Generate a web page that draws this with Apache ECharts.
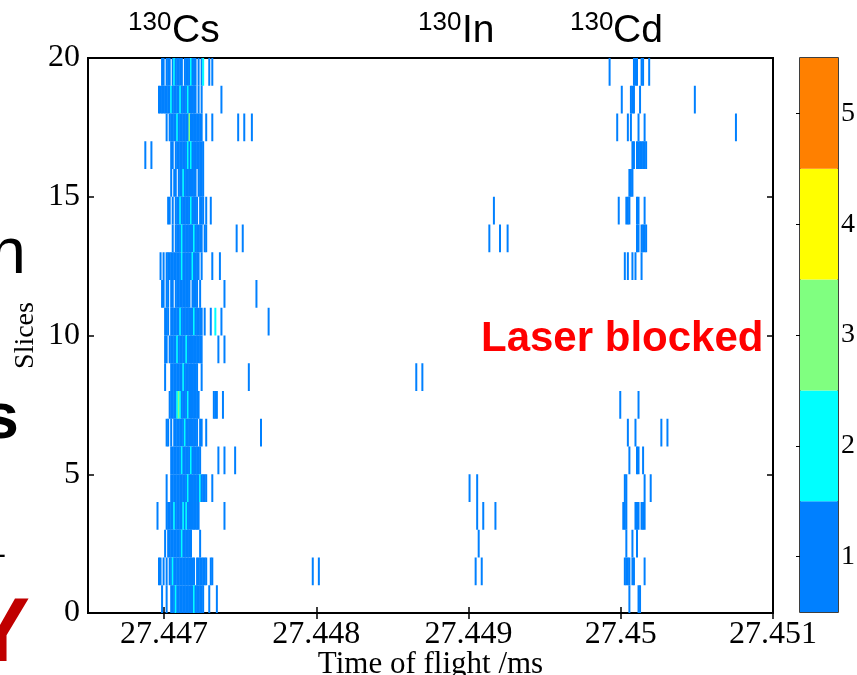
<!DOCTYPE html>
<html>
<head>
<meta charset="utf-8">
<script src="https://cdn.jsdelivr.net/npm/echarts@6/dist/echarts.min.js"></script>
<style>
  html, body { margin: 0; padding: 0; background: #fff; }
  #chart { width: 857px; height: 675px; }
</style>
</head>
<body>
<div id="chart"></div>
<script>
// Time-of-flight spectrum per slice, coloured by counts per bin.
const X_MIN = 27.4465;
const X_MAX = 27.451;
const xTickValues = [27.447, 27.448, 27.449, 27.45, 27.451];
const sliceMin = 0;
const sliceMax = 20;
const sliceStep = 5;
const countLevels = [1, 2, 3, 4, 5];
const levelColors = ['#0080ff', '#00ffff', '#80ff80', '#ffff00', '#ff8000'];

const BIN = 0.00001;     // width of one time bin (ms)
const CS_T0 = 27.4468;   // time of bin 0 for the 130Cs strings below

// 130Cs peak: [slice, first bin, counts of consecutive bins]
const csPeak = [
  [19, 18, '1101110121111101111211101012000101'],
  [18, 16, '11111111211111211112111110101'],
  [17, 21, '1011111211111113111111110010001'],
  [16, 24, '1101111111121211111111'],
  [15, 24, '1011011121111111101111'],
  [14, 22, '11010111211111121111011101001'],
  [13, 25, '10111121111111211111011'],
  [12, 17, '1010111111111121111112111101000000100001'],
  [11, 18, '11011011011111111110111101'],
  [10, 20, '11101111112111111112111110100010020001'],
  [9, 20, '1101111121111121111111111000000000010001'],
  [8, 20, '1000111111112111111111001'],
  [7, 23, '111112321111211111110000000001110001'],
  [6, 21, '110101111111211111111011001'],
  [5, 24, '11111112111112111111'],
  [4, 21, '1001111111111121111111211110001'],
  [3, 15, '1000001111121111121211111111'],
  [2, 20, '101111111112111111000001'],
  [1, 16, '110101011211111111111111011111110011'],
  [0, 18, '1001001112111111111112111111000100001']
];

// single counts scattered around the 130Cs peak: [slice, times]
const csScatter = [
  [18, [27.44737]],
  [17, [27.44748, 27.44752, 27.44757]],
  [16, [27.44687, 27.44691]],
  [13, [27.44747, 27.44751]],
  [11, [27.44739, 27.44760]],
  [10, [27.44768]],
  [8, [27.44755]],
  [6, [27.44763]],
  [5, [27.44735, 27.44739, 27.44746]],
  [3, [27.44739]],
  [1, [27.44797, 27.44801]]
];

// 130In: [slice, times]
const inPeak = [
  [14, [27.44916]],
  [13, [27.44913, 27.44920, 27.44925]],
  [8, [27.44865, 27.44869]],
  [4, [27.44900, 27.44905]],
  [3, [27.44905, 27.44909, 27.44917]],
  [2, [27.44906]],
  [1, [27.44904, 27.44908]]
];

// 130Cd: [slice, times]
const cdPeak = [
  [19, [27.44992, 27.45008, 27.45009, 27.45010, 27.45013, 27.45014, 27.45018]],
  [18, [27.45000, 27.45006, 27.45007, 27.45008, 27.45012, 27.45048]],
  [17, [27.44997, 27.45004, 27.45006, 27.45011, 27.45015, 27.45075]],
  [16, [27.45007, 27.45008, 27.45010, 27.45011, 27.45012, 27.45013, 27.45014, 27.45015, 27.45016]],
  [15, [27.45005, 27.45006, 27.45007]],
  [14, [27.44998, 27.45003, 27.45004, 27.45005, 27.45010, 27.45011, 27.45015]],
  [13, [27.45010, 27.45011, 27.45013, 27.45014, 27.45015, 27.45016]],
  [12, [27.45002, 27.45004, 27.45007, 27.45009, 27.45013]],
  [7, [27.44999, 27.45011]],
  [6, [27.45004, 27.45009, 27.45026, 27.45030]],
  [5, [27.45005, 27.45010, 27.45011, 27.45014]],
  [4, [27.45002, 27.45003, 27.45015, 27.45019]],
  [3, [27.45001, 27.45002, 27.45003, 27.45009, 27.45010, 27.45011, 27.45013, 27.45014, 27.45015]],
  [2, [27.45003, 27.45007, 27.45010]],
  [1, [27.45002, 27.45003, 27.45004, 27.45005, 27.45007, 27.45008, 27.45015]],
  [0, [27.45005, 27.45011, 27.45012]]
];

// ---- build [time, slice, count] records ----
const events = [];
csPeak.forEach(([slice, first, counts]) => {
  for (let k = 0; k < counts.length; k++) {
    const c = Number(counts[k]);
    if (c > 0) events.push([Number((CS_T0 + (first + k) * BIN).toFixed(5)), slice, c]);
  }
});
[csScatter, inPeak, cdPeak].forEach(list => {
  list.forEach(([slice, times]) => times.forEach(t => events.push([t, slice, 1])));
});

const serif = '"Liberation Serif", "Times New Roman", serif';
const sans = '"Liberation Sans", Arial, sans-serif';

// one bin = one cell; cells are kept at least 2px wide so single counts stay visible
function renderBin(params, api) {
  const t = api.value(0);
  const s = api.value(1);
  const p0 = api.coord([t, s + 1]);
  const p1 = api.coord([t + BIN, s]);
  const cs = params.coordSys;
  const w = Math.max(p1[0] - p0[0], 2);
  const shape = echarts.graphic.clipRectByRect(
    { x: p0[0], y: p0[1], width: w, height: p1[1] - p0[1] },
    { x: cs.x, y: cs.y, width: cs.width, height: cs.height }
  );
  return shape && { type: 'rect', shape: shape, style: { fill: api.visual('color') } };
}

function renderLevel(params, api) {
  const v = api.value(1);
  const p0 = api.coord([0, v + 0.5]);
  const p1 = api.coord([1, v - 0.5]);
  return {
    type: 'rect',
    shape: { x: p0[0], y: p0[1], width: p1[0] - p0[0], height: p1[1] - p0[1] },
    style: { fill: api.visual('color') }
  };
}

const tickLine = { color: '#000', width: 1.5 };
const labelStyle = { color: '#000', fontFamily: serif, fontSize: 32 };

const chart = echarts.init(document.getElementById('chart'), null, { renderer: 'canvas' });

chart.setOption({
  animation: false,
  backgroundColor: '#fff',
  grid: [
    { left: 88, right: 84, top: 58, bottom: 62, outerBoundsMode: 'none', containLabel: false,
      show: true, borderColor: '#000', borderWidth: 2, backgroundColor: 'transparent' },
    { left: 800, right: 19, top: 58, bottom: 63, outerBoundsMode: 'none', containLabel: false,
      show: true, borderColor: '#000', borderWidth: 1.5, backgroundColor: 'transparent' }
  ],
  xAxis: [
    {
      gridIndex: 0, type: 'value', min: X_MIN, max: X_MAX, position: 'bottom',
      axisLine: { show: false }, splitLine: { show: false },
      axisTick: { inside: true, length: 6, lineStyle: tickLine, customValues: xTickValues },
      axisLabel: Object.assign({ customValues: xTickValues, margin: 6 }, labelStyle),
      name: 'Time of flight /ms', nameLocation: 'middle', nameGap: 36, nameMoveOverlap: false,
      nameTextStyle: { color: '#000', fontFamily: serif, fontSize: 31 }
    },
    {
      gridIndex: 0, type: 'value', min: X_MIN, max: X_MAX, position: 'top',
      axisLine: { show: false }, splitLine: { show: false },
      axisTick: { inside: true, length: 6, lineStyle: tickLine, customValues: xTickValues },
      axisLabel: { show: false }
    },
    { gridIndex: 1, type: 'value', min: 0, max: 1, show: false }
  ],
  yAxis: [
    {
      gridIndex: 0, type: 'value', min: sliceMin, max: sliceMax, interval: sliceStep, position: 'left',
      axisLine: { show: false }, splitLine: { show: false },
      axisTick: { inside: true, length: 6, lineStyle: tickLine },
      axisLabel: Object.assign({ margin: 8 }, labelStyle),
      name: 'Slices', nameLocation: 'middle', nameGap: 48, nameRotate: 90, nameMoveOverlap: false,
      nameTextStyle: { color: '#000', fontFamily: serif, fontSize: 28 }
    },
    {
      gridIndex: 0, type: 'value', min: sliceMin, max: sliceMax, interval: sliceStep, position: 'right',
      axisLine: { show: false }, splitLine: { show: false },
      axisTick: { inside: true, length: 6, lineStyle: tickLine },
      axisLabel: { show: false }
    },
    {
      gridIndex: 1, type: 'value', min: 0.5, max: 5.5, position: 'right',
      axisLine: { show: false }, splitLine: { show: false },
      axisTick: { inside: true, length: 4, lineStyle: { color: '#000', width: 1 }, customValues: countLevels },
      axisLabel: { customValues: countLevels, margin: 3, color: '#000', fontFamily: serif, fontSize: 28 }
    },
    {
      gridIndex: 1, type: 'value', min: 0.5, max: 5.5, position: 'left',
      axisLine: { show: false }, splitLine: { show: false },
      axisTick: { inside: true, length: 4, lineStyle: { color: '#000', width: 1 }, customValues: countLevels },
      axisLabel: { show: false }
    }
  ],
  visualMap: {
    type: 'piecewise', show: false, dimension: 2, seriesIndex: [0, 1],
    pieces: countLevels.map((v, i) => ({ value: v, color: levelColors[i] }))
  },
  series: [
    {
      type: 'custom', xAxisIndex: 0, yAxisIndex: 0,
      renderItem: renderBin, encode: { x: 0, y: 1 },
      data: events, silent: true
    },
    {
      type: 'custom', xAxisIndex: 2, yAxisIndex: 2,
      renderItem: renderLevel, encode: { x: 0, y: 1 },
      data: countLevels.map(v => [0, v, v]), silent: true, z: 1
    }
  ],
  graphic: [
    { type: 'text', x: 128, y: 23, style: { text: '130', font: '26px ' + sans, fill: '#000', align: 'left', verticalAlign: 'middle' } },
    { type: 'text', x: 172, y: 31, style: { text: 'Cs', font: '39px ' + sans, fill: '#000', align: 'left', verticalAlign: 'middle' } },
    { type: 'text', x: 418, y: 23, style: { text: '130', font: '26px ' + sans, fill: '#000', align: 'left', verticalAlign: 'middle' } },
    { type: 'text', x: 462, y: 31, style: { text: 'In', font: '39px ' + sans, fill: '#000', align: 'left', verticalAlign: 'middle' } },
    { type: 'text', x: 570, y: 23, style: { text: '130', font: '26px ' + sans, fill: '#000', align: 'left', verticalAlign: 'middle' } },
    { type: 'text', x: 613, y: 31, style: { text: 'Cd', font: '39px ' + sans, fill: '#000', align: 'left', verticalAlign: 'middle' } },
    { type: 'text', x: 481, y: 339, z: 10, style: { text: 'Laser blocked', font: 'bold 42px ' + sans, fill: '#ff0000', align: 'left', verticalAlign: 'middle' } },
    { type: 'text', x: 26, y: 255, style: { text: 'h', font: '65px ' + sans, fill: '#000', align: 'right', verticalAlign: 'middle' } },
    { type: 'text', x: 19, y: 420, style: { text: 's', font: 'bold 65px ' + sans, fill: '#000', align: 'right', verticalAlign: 'middle' } },
    { type: 'text', x: 6, y: 556, style: { text: '-', font: '30px ' + sans, fill: '#000', align: 'right', verticalAlign: 'middle' } },
    { type: 'text', x: 30, y: 636, style: { text: 'Y', font: 'bold 90px ' + sans, fill: '#c00000', align: 'right', verticalAlign: 'middle' } }
  ]
});
</script>
</body>
</html>
